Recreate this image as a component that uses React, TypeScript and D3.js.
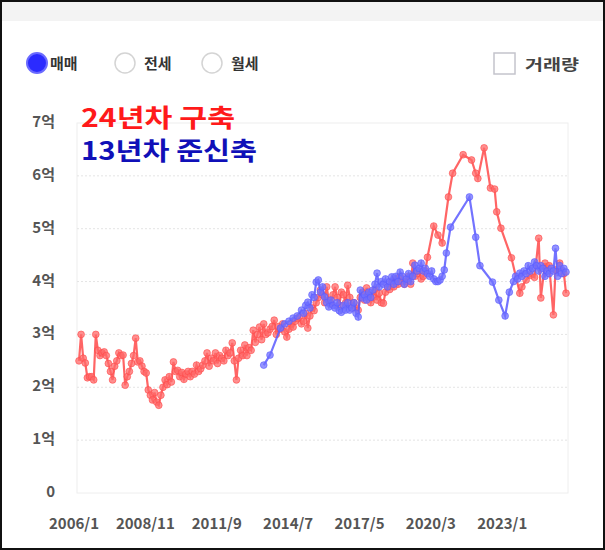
import React from "react";
import * as d3 from "d3";

// Month index 0 = 2006/1
const START_YEAR = 2006;
const tickMonths = [0, 34, 68, 102, 136, 170, 204];
const yTicks = [0, 1, 2, 3, 4, 5, 6, 7];
const yTickLabels = ["0", "1억", "2억", "3억", "4억", "5억", "6억", "7억"];
const legendItems = ["매매", "전세", "월세"];
const volumeLabel = "거래량";
const oldLabel = "24년차 구축";
const newLabel = "13년차 준신축";

// 24년차 구축: [month index, 억]
const redMonths = [
  0, 1, 2, 3, 4, 5, 6, 7, 8, 9, 10, 11,
  12, 13, 14, 15, 16, 17, 18, 19, 20, 21, 22, 23,
  24, 25, 26, 27, 28, 29, 30, 31, 32, 33, 34, 35,
  36, 37, 38, 39, 40, 41, 42, 43, 44, 45, 46, 47,
  48, 49, 50, 51, 52, 53, 54, 55, 56, 57, 58, 59,
  60, 61, 62, 63, 64, 65, 66, 67, 68, 69, 70, 71,
  72, 73, 74, 75, 76, 77, 78, 79, 80, 81, 82, 83,
  84, 85, 86, 87, 88, 89, 90, 91, 92, 93, 94, 95,
  96, 97, 98, 99, 100, 101, 102, 103, 104, 105, 106, 107,
  108, 109, 110, 111, 112, 113, 114, 115, 116, 117, 118, 119,
  120, 121, 122, 123, 124, 125, 126, 127, 128, 129, 130, 131,
  132, 133, 134, 135, 136, 137, 138, 139, 140, 141, 142, 143,
  144, 145, 146, 147, 148, 149, 150, 151, 152, 153, 154, 155,
  156, 157, 158, 159, 160, 161, 162, 163, 164, 165, 166,
  169, 171, 173, 176, 178, 183, 187, 189, 190, 193, 196, 198, 199, 201, 206,
  210, 211, 213, 215, 217, 219, 220, 222, 223, 224, 226, 227, 229, 231, 232,
];
const redValues = [
  2.5, 3.0, 2.55, 2.46, 2.18, 2.2, 2.2, 2.14, 3.0, 2.7, 2.6, 2.65,
  2.67, 2.6, 2.45, 2.3, 2.14, 2.4, 2.5, 2.65, 2.6, 2.61, 2.04, 2.2,
  2.3, 2.45, 2.6, 2.93, 2.48, 2.5, 2.4, 2.3, 2.27, 1.95, 1.85, 1.76,
  1.9, 1.72, 1.66, 1.85, 2.0, 2.14, 2.05, 2.2, 2.1, 2.48, 2.3, 2.32,
  2.2, 2.28, 2.15, 2.25, 2.3, 2.2, 2.3, 2.25, 2.42, 2.3, 2.35, 2.42,
  2.5, 2.65, 2.4, 2.55, 2.5, 2.65, 2.45, 2.6, 2.55, 2.5, 2.7, 2.6,
  2.65, 2.84, 2.5, 2.14, 2.55, 2.7, 2.6, 2.8, 2.6, 2.75, 2.7, 3.08,
  2.85, 3.0, 3.14, 2.9, 3.2, 3.0, 3.03, 3.1, 3.15, 3.27, 3.0, 3.15,
  3.1, 3.2, 3.05, 2.95, 3.1, 3.2, 3.14, 3.25, 3.3, 3.33, 3.2, 3.25,
  3.4, 3.12, 3.35, 3.5, 3.45, 3.6, 3.7, 3.84, 3.75, 3.6, 3.9, 3.65,
  3.59, 3.75, 3.9, 3.7, 3.55, 3.8, 3.75, 3.6, 3.93, 3.7, 3.55, 3.6,
  3.5, 3.46, 3.7, 3.8, 3.65, 3.88, 3.75, 3.6, 3.7, 3.85, 3.65, 3.78,
  3.6, 3.59, 3.8, 3.9, 3.85, 4.0, 3.9, 4.05, 3.95, 4.1, 4.0, 3.95,
  4.0, 4.1, 3.95, 4.35, 4.1, 4.15, 4.2, 4.05, 4.1, 4.2, 4.46,
  5.05, 4.88, 4.73, 5.6, 6.05, 6.4, 6.3, 6.05, 5.95, 6.53, 5.77, 5.75, 5.32, 5.01, 4.45,
  3.78, 3.9, 4.03, 4.12, 4.08, 4.82, 3.69, 4.35, 4.25, 4.3, 3.37, 4.22, 4.35, 4.15, 3.78,
];

// 13년차 준신축
const blueMonths = [
  88, 91, 96, 98, 100, 102, 104, 106, 107,
  108, 109, 110, 111, 112, 113, 114, 115, 116, 117, 118, 119,
  120, 121, 122, 123, 124, 125, 126, 127, 128, 129, 130, 131,
  132, 133, 134, 135, 136, 137, 138, 139, 140, 141, 142, 143,
  144, 145, 146, 147, 148, 149, 150, 151, 152, 153, 154, 155,
  156, 157, 158, 159, 160, 161, 162, 163, 164, 165, 166, 167,
  168, 169, 170, 171, 172, 173, 174, 175, 177, 186, 189, 191, 197, 200, 203, 205,
  207, 208, 209, 210, 211, 212, 213, 214, 215, 216, 217, 218, 219,
  220, 221, 222, 223, 224, 225, 226, 227, 228, 229, 230, 231, 232,
];
const blueValues = [
  2.42, 2.61, 3.12, 3.2, 3.25, 3.31, 3.35, 3.46, 3.4,
  3.55, 3.61, 3.5, 3.75, 3.7, 3.99, 4.03, 3.8, 3.9, 3.71, 3.6, 3.52,
  3.65, 3.55, 3.5, 3.6, 3.45, 3.42, 3.55, 3.46, 3.6, 3.46, 3.5, 3.6,
  3.4, 3.33, 3.84, 3.69, 3.75, 3.65, 3.8, 3.7, 3.84, 3.95, 4.16, 3.9,
  4.0, 3.95, 4.05, 3.9, 4.0, 4.09, 3.95, 4.1, 4.0, 4.18, 4.1, 3.95,
  4.05, 4.15, 4.0, 4.1, 4.31, 4.2, 4.25, 4.35, 4.2, 4.25, 4.15, 4.1,
  4.2, 4.05, 4.0, 4.0, 4.03, 4.1, 4.22, 4.54, 5.03, 5.6, 4.84, 4.3, 3.99, 3.65, 3.35, 3.8,
  4.0, 4.1, 4.05, 4.16, 4.1, 4.2, 4.15, 4.3, 4.2, 4.25, 4.37, 4.3, 4.2,
  4.3, 4.25, 4.1, 4.2, 4.15, 4.25, 4.2, 4.63, 4.1, 4.3, 4.15, 4.25, 4.18,
];

const W = 605;
const H = 550;
const plot = { left: 77, right: 568, top: 123, bottom: 493 };

const x = d3.scaleLinear().domain([0, 232]).range([79, 566]);
const y = d3.scaleLinear().domain([0, 7]).range([plot.bottom, plot.top]);

const monthLabel = (m: number) =>
  `${START_YEAR + Math.floor(m / 12)}/${(m % 12) + 1}`;

const FONT = "'Noto Sans CJK KR', 'Noto Sans', sans-serif";

function Series({ months, values, stroke, fill }: { months: number[]; values: number[]; stroke: string; fill: string }) {
  const pts: [number, number][] = months.map((m, i) => [m, values[i]]);
  const line = d3
    .line<[number, number]>()
    .x((d) => x(d[0]))
    .y((d) => y(d[1]));
  return (
    <g>
      <path d={line(pts) || ""} fill="none" stroke={stroke} strokeWidth={2.2} strokeOpacity={0.85} />
      {pts.map((d, i) => (
        <circle key={i} cx={x(d[0])} cy={y(d[1])} r={3.4} fill={fill} fillOpacity={0.75} stroke={stroke} strokeOpacity={0.6} strokeWidth={1} />
      ))}
    </g>
  );
}

export default function App() {
  return (
    <svg
      width={W}
      height={H}
      style={{ position: "absolute", left: 0, top: 0, background: "#fff" }}
      fontFamily={FONT}
    >
      <rect x={0} y={0} width={W} height={H} fill="#fff" />
      <rect x={1} y={1} width={W - 2} height={20} fill="#f3f3f3" />

      {/* legend */}
      <circle cx={37} cy={63} r={10} fill="#2b2bff" stroke="#6b6bff" strokeWidth={2} />
      <text x={50} y={69} fontSize={15} fontWeight={700} fill="#333">{legendItems[0]}</text>
      <circle cx={125} cy={63} r={10} fill="#fff" stroke="#d4d4d4" strokeWidth={1.5} />
      <text x={144} y={69} fontSize={15} fontWeight={700} fill="#333">{legendItems[1]}</text>
      <circle cx={212} cy={63} r={10} fill="#fff" stroke="#d4d4d4" strokeWidth={1.5} />
      <text x={231} y={69} fontSize={15} fontWeight={700} fill="#333">{legendItems[2]}</text>
      <rect x={494} y={53} width={21} height={21} fill="#fff" stroke="#c4c4cc" strokeWidth={1.5} />
      <text x={525} y={70} fontSize={15} fontWeight={700} fill="#444" textLength={54} lengthAdjust="spacingAndGlyphs">{volumeLabel}</text>

      {/* grid */}
      <rect x={plot.left} y={plot.top} width={plot.right - plot.left} height={plot.bottom - plot.top} fill="none" stroke="#eeeeee" />
      {yTicks.slice(1, -1).map((t) => (
        <line key={t} x1={plot.left} x2={plot.right} y1={y(t)} y2={y(t)} stroke="#e4e4e4" strokeDasharray="2,2" />
      ))}
      {yTicks.map((t, i) => (
        <text key={t} x={55} y={y(t) + 4} textAnchor="end" fontSize={15} fill="#555" fontWeight={700}>
          {yTickLabels[i]}
        </text>
      ))}
      {tickMonths.map((m) => (
        <text key={m} x={x(m) - 5} y={529} textAnchor="middle" fontSize={15} fill="#555" fontWeight={700}>
          {monthLabel(m)}
        </text>
      ))}

      <Series months={redMonths} values={redValues} stroke="#ff4a4a" fill="#ff6a6a" />
      <Series months={blueMonths} values={blueValues} stroke="#5a5aff" fill="#7070ff" />

      <text x={81} y={127} fontSize={25} fontWeight={700} fill="#ff1a1a" textLength={154} lengthAdjust="spacingAndGlyphs">{oldLabel}</text>
      <text x={81} y={160} fontSize={25} fontWeight={700} fill="#1010b8" textLength={176} lengthAdjust="spacingAndGlyphs">{newLabel}</text>

      <rect x={1} y={1} width={W - 2} height={H - 2} fill="none" stroke="#111" strokeWidth={2} />
    </svg>
  );
}
